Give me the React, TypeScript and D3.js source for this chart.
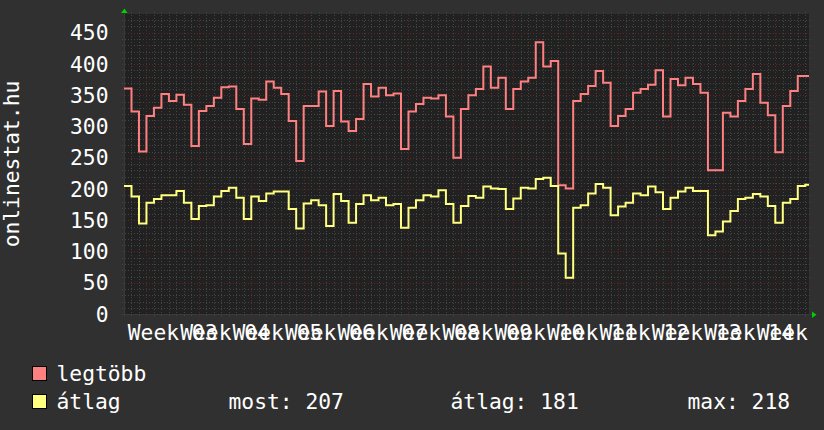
import React from "react";
import * as d3 from "d3";

// Daily values starting 2011-01-14 (UTC)
const legtobb: number[] = [
  361, 324, 260, 317, 330, 352, 341, 351, 335, 269,
  325, 333, 346, 363, 364, 328, 272, 345, 343, 372,
  362, 352, 309, 245, 333, 333, 356, 301, 357, 308,
  293, 312, 368, 348, 362, 350, 353, 264, 324, 336,
  346, 345, 350, 316, 250, 328, 350, 360, 396, 362,
  378, 328, 360, 372, 378, 435, 396, 405, 206, 201,
  341, 352, 365, 389, 370, 301, 317, 328, 354, 360,
  367, 390, 316, 376, 366, 378, 368, 354, 230, 230,
  322, 316, 341, 360, 384, 338, 318, 259, 333, 357,
  381, 381,
];

const atlag: number[] = [
  205, 188, 145, 178, 184, 190, 190, 197, 178, 152,
  173, 174, 188, 197, 202, 186, 152, 188, 181, 193,
  196, 196, 168, 137, 177, 182, 174, 141, 192, 181,
  146, 176, 190, 182, 186, 174, 176, 138, 170, 182,
  190, 188, 198, 176, 146, 173, 189, 186, 204, 201,
  200, 168, 185, 202, 201, 216, 218, 205, 97, 58,
  170, 174, 193, 208, 202, 158, 172, 178, 193, 190,
  204, 195, 168, 186, 196, 202, 197, 197, 126, 132,
  148, 165, 184, 186, 192, 188, 173, 146, 178, 184,
  205, 207,
];

const yTicks: number[] = [0, 50, 100, 150, 200, 250, 300, 350, 400, 450];
const seriesNames: string[] = ["legtöbb", "átlag"];
const seriesColors: string[] = ["#ff8080", "#ffff80"];
const statLabels: string[] = ["most: 207", "átlag: 181", "max: 218"];
const yTitle = "onlinestat.hu";

const W = 824;
const H = 430;
const L = 124;
const R = 809;
const T = 14;
const B = 314;
const FONT = "'DejaVu Sans Mono', monospace";
const FS = 21.3;
const DAY = 86400000;

export default function App() {
  const start = new Date(Date.UTC(2011, 0, 14));
  const end = new Date(start.getTime() + 91.5 * DAY);
  const x = d3.scaleUtc().domain([start, end]).range([L, R]);
  const y = d3.scaleLinear().domain([0, 480]).range([B, T]);

  const dates = legtobb.map((_, i) => new Date(start.getTime() + i * DAY));
  const mkPts = (vals: number[]) => {
    const pts: [Date, number][] = vals.map((v, i) => [dates[i], v]);
    pts.push([end, vals[vals.length - 1]]);
    return pts;
  };
  const line = d3
    .line<[Date, number]>()
    .x((d) => x(d[0]))
    .y((d) => y(d[1]))
    .curve(d3.curveStepAfter);

  const dayLines = d3.utcDay.range(start, end).filter((d) => d > start);
  const mondays = d3.utcMonday.range(start, end);
  const minorY = d3.range(10, 480, 10).filter((v) => v % 50 !== 0);
  const majorY = d3.range(50, 480, 50);
  const fmtWeek = d3.utcFormat("%V");

  const minorC = "#454545";
  const majorC = "#5e2828";

  return (
    <svg
      width={W}
      height={H}
      style={{ position: "absolute", left: 0, top: 0, display: "block" }}
      fontFamily={FONT}
    >
      <defs>
        <clipPath id="plotClip">
          <rect x={L} y={T - 2} width={R - L} height={B - T + 4} />
        </clipPath>
        <clipPath id="labClip">
          <rect x={0} y={0} width={819} height={H} />
        </clipPath>
      </defs>
      <rect x={0} y={0} width={W} height={H} fill="#303030" />
      <rect x={L} y={T} width={R - L} height={B - T} fill="#212121" />

      {/* minor grid */}
      <g stroke={minorC} strokeWidth={1} strokeDasharray="1 2" shapeRendering="crispEdges">
        {dayLines
          .filter((d) => d.getUTCDay() !== 1)
          .map((d, i) => (
            <line key={"vd" + i} x1={Math.round(x(d)) + 0.5} x2={Math.round(x(d)) + 0.5} y1={T - 2} y2={B + 2} />
          ))}
        {minorY.map((v) => (
          <line key={"hm" + v} x1={L - 2} x2={R + 2} y1={Math.round(y(v)) + 0.5} y2={Math.round(y(v)) + 0.5} />
        ))}
      </g>
      {/* major grid */}
      <g stroke={majorC} strokeWidth={1} strokeDasharray="1 2" shapeRendering="crispEdges">
        {mondays.map((d, i) => (
          <line key={"vM" + i} x1={Math.round(x(d)) + 0.5} x2={Math.round(x(d)) + 0.5} y1={T - 2} y2={B + 2} />
        ))}
        {majorY.map((v) => (
          <line key={"hM" + v} x1={L - 2} x2={R + 2} y1={Math.round(y(v)) + 0.5} y2={Math.round(y(v)) + 0.5} />
        ))}
      </g>

      {/* axes */}
      <line x1={L - 3} x2={R + 3} y1={B + 0.5} y2={B + 0.5} stroke="#3a3a3a" shapeRendering="crispEdges" />
      <line x1={L + 0.5} x2={L + 0.5} y1={T - 3} y2={B + 3} stroke="#3a3a3a" shapeRendering="crispEdges" />
      <polygon points={`${L - 3},13 ${L + 3.5},13 ${L + 0.5},8.5`} fill="#00d000" />
      <polygon points={`${R + 3},311.5 ${R + 3},318 ${R + 7.5},314.7`} fill="#00d000" />

      {/* series */}
      <g clipPath="url(#plotClip)" fill="none" strokeWidth={2} strokeLinejoin="miter">
        <path d={line(mkPts(legtobb)) || ""} stroke={seriesColors[0]} />
        <path d={line(mkPts(atlag)) || ""} stroke={seriesColors[1]} />
      </g>

      {/* y tick labels */}
      <g fill="#ffffff" fontSize={FS} textAnchor="end">
        {yTicks.map((v) => (
          <text key={"yt" + v} x={108.5} y={y(v) + 7.7}>
            {v}
          </text>
        ))}
      </g>
      {/* x labels */}
      <g fill="#ffffff" fontSize={FS} textAnchor="middle" clipPath="url(#labClip)">
        {mondays.map((d, i) => (
          <text key={"xl" + i} x={x(new Date(d.getTime() + 3.5 * DAY))} y={339.5}>
            {"Week " + fmtWeek(d)}
          </text>
        ))}
      </g>
      {/* y title */}
      <text
        transform={`translate(18.5,${(T + B) / 2}) rotate(-90)`}
        textAnchor="middle"
        fill="#ffffff"
        fontSize={FS}
      >
        {yTitle}
      </text>

      {/* legend */}
      <g fontSize={FS} fill="#ffffff">
        <rect x={32.5} y={366.5} width={14} height={14} fill={seriesColors[0]} stroke="#000" strokeWidth={1} />
        <text x={56.5} y={381}>{seriesNames[0]}</text>
        <rect x={32.5} y={394.5} width={14} height={14} fill={seriesColors[1]} stroke="#000" strokeWidth={1} />
        <text x={56.5} y={409}>{seriesNames[1]}</text>
        <text x={228.5} y={409}>{statLabels[0]}</text>
        <text x={450.5} y={409}>{statLabels[1]}</text>
        <text x={687.5} y={409}>{statLabels[2]}</text>
      </g>
    </svg>
  );
}
